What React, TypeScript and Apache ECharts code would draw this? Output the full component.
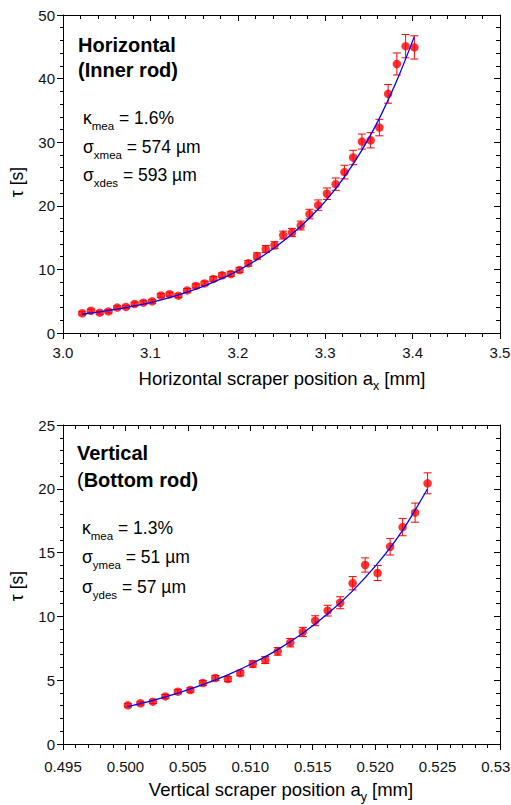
import React, { useEffect, useRef } from 'react';
import * as echarts from 'echarts';

// ---------- Horizontal (inner rod) ----------
const hX = [3.022, 3.032, 3.042, 3.052, 3.062, 3.072, 3.082, 3.092, 3.102, 3.112, 3.122, 3.132, 3.142, 3.152, 3.162, 3.172, 3.182, 3.192, 3.202, 3.212, 3.222, 3.232, 3.242, 3.252, 3.262, 3.272, 3.282, 3.292, 3.302, 3.312, 3.322, 3.332, 3.342, 3.352, 3.362, 3.372, 3.382, 3.392, 3.402];
const hTau = [3.1, 3.5, 3.2, 3.4, 4.0, 4.1, 4.56, 4.77, 4.98, 5.9, 6.1, 5.87, 6.7, 7.4, 7.8, 8.5, 9.07, 9.28, 9.9, 10.95, 12.1, 13.2, 13.8, 15.4, 15.8, 16.9, 18.7, 20.1, 21.9, 23.4, 25.3, 27.6, 30.1, 30.3, 32.3, 37.6, 42.3, 45.1, 44.9];
const hErr = [0.25, 0.25, 0.25, 0.25, 0.25, 0.25, 0.28, 0.28, 0.3, 0.3, 0.3, 0.3, 0.3, 0.32, 0.34, 0.36, 0.38, 0.38, 0.4, 0.45, 0.5, 0.55, 0.55, 0.62, 0.65, 0.7, 0.75, 0.82, 0.9, 0.97, 1.07, 1.13, 1.18, 1.2, 1.3, 1.47, 1.73, 1.83, 1.83];
const hFitX = [3.022, 3.042, 3.062, 3.082, 3.102, 3.122, 3.142, 3.162, 3.182, 3.202, 3.222, 3.242, 3.262, 3.282, 3.302, 3.322, 3.342, 3.362, 3.382, 3.402];
const hFitTau = [2.95, 3.33, 3.76, 4.26, 4.87, 5.58, 6.43, 7.42, 8.58, 9.95, 11.54, 13.4, 15.56, 18.08, 21.0, 24.55, 28.75, 33.75, 39.7, 46.6];
const hXRange = [3.0, 3.5, 0.1];
const hYRange = [0, 50, 10];

// ---------- Vertical (bottom rod) ----------
const vX = [0.5002, 0.5012, 0.5022, 0.5032, 0.5042, 0.5052, 0.5062, 0.5072, 0.5082, 0.5092, 0.5102, 0.5112, 0.5122, 0.5132, 0.5142, 0.5152, 0.5162, 0.5172, 0.5182, 0.5192, 0.5202, 0.5212, 0.5222, 0.5232, 0.5242];
const vTau = [3.03, 3.19, 3.32, 3.73, 4.1, 4.23, 4.78, 5.17, 5.09, 5.56, 6.27, 6.58, 7.26, 7.94, 8.78, 9.66, 10.45, 11.07, 12.6, 14.03, 13.4, 15.46, 17.0, 18.13, 20.43];
const vErr = [0.13, 0.13, 0.14, 0.15, 0.16, 0.17, 0.19, 0.2, 0.2, 0.22, 0.25, 0.27, 0.3, 0.33, 0.36, 0.39, 0.42, 0.47, 0.52, 0.56, 0.59, 0.65, 0.68, 0.75, 0.82];
const vFitX = [0.5002, 0.5022, 0.5042, 0.5062, 0.5082, 0.5102, 0.5122, 0.5142, 0.5162, 0.5182, 0.5202, 0.5222, 0.5242];
const vFitTau = [2.92, 3.42, 3.99, 4.65, 5.42, 6.33, 7.4, 8.68, 10.2, 12.0, 14.15, 16.75, 20.0];
const vXRange = [0.495, 0.53, 0.005];
const vYRange = [0, 25, 5];

const FONT = '"Liberation Sans", Arial, Helvetica, sans-serif';
const RED = '#ff0000';
const BLUE = '#0000ff';

function xAxes(grid: number, r: number[], digits: number, margin: number) {
  const common = {
    type: 'value', gridIndex: grid, min: r[0], max: r[1], interval: r[2],
    splitLine: { show: false }, minorSplitLine: { show: false },
    axisLine: { onZero: false, lineStyle: { color: '#000', width: 1 } },
  };
  return [
    {
      ...common, position: 'bottom',
      axisTick: { show: true, inside: false, length: 6, lineStyle: { color: '#000' } },
      minorTick: { show: true, splitNumber: 5, length: 4, lineStyle: { color: '#000' } },
      axisLabel: { color: '#111', fontSize: 15, fontFamily: FONT, margin, formatter: (v: number) => v.toFixed(digits) },
    },
    {
      ...common, position: 'top',
      axisTick: { show: true, inside: true, length: 6, lineStyle: { color: '#000' } },
      minorTick: { show: true, splitNumber: 5, length: 4, lineStyle: { color: '#000' } },
      axisLabel: { show: false },
    },
  ];
}

function yAxes(grid: number, r: number[]) {
  const common = {
    type: 'value', gridIndex: grid, min: r[0], max: r[1], interval: r[2],
    splitLine: { show: false }, minorSplitLine: { show: false },
    axisLine: { onZero: false, lineStyle: { color: '#000', width: 1 } },
  };
  return [
    {
      ...common, position: 'left',
      axisTick: { show: true, inside: false, length: 6, lineStyle: { color: '#000' } },
      minorTick: { show: true, splitNumber: 5, length: 3, lineStyle: { color: '#000' } },
      axisLabel: { color: '#111', fontSize: 15, fontFamily: FONT, margin: 8 },
    },
    {
      ...common, position: 'right',
      axisTick: { show: true, inside: true, length: 6, lineStyle: { color: '#000' } },
      minorTick: { show: true, splitNumber: 5, length: 4, lineStyle: { color: '#000' } },
      axisLabel: { show: false },
    },
  ];
}

function errSeries(xs: number[], ys: number[], es: number[], xi: number, yi: number) {
  return {
    type: 'custom', xAxisIndex: xi, yAxisIndex: yi, z: 2,
    data: xs.map((x, i) => [x, ys[i], es[i]]),
    encode: { x: 0, y: 1 },
    renderItem: (_p: any, api: any) => {
      const x = api.value(0), y = api.value(1), e = api.value(2);
      const t = api.coord([x, y + e]);
      const b = api.coord([x, y - e]);
      const w = 4;
      const st = { stroke: RED, lineWidth: 1 };
      return {
        type: 'group',
        children: [
          { type: 'line', shape: { x1: t[0], y1: t[1], x2: b[0], y2: b[1] }, style: st },
          { type: 'line', shape: { x1: t[0] - w, y1: t[1], x2: t[0] + w, y2: t[1] }, style: st },
          { type: 'line', shape: { x1: b[0] - w, y1: b[1], x2: b[0] + w, y2: b[1] }, style: st },
        ],
      };
    },
  };
}

function pts(xs: number[], ys: number[], xi: number, yi: number) {
  return {
    type: 'scatter', xAxisIndex: xi, yAxisIndex: yi, z: 3,
    symbol: 'circle', symbolSize: 8.5,
    itemStyle: { color: RED },
    data: xs.map((x, i) => [x, ys[i]]),
  };
}

function fit(xs: number[], ys: number[], xi: number, yi: number) {
  return {
    type: 'line', xAxisIndex: xi, yAxisIndex: yi, z: 4,
    showSymbol: false, symbol: 'none', smooth: 0.3,
    lineStyle: { color: BLUE, width: 1.3 },
    data: xs.map((x, i) => [x, ys[i]]),
  };
}

const rich = {
  m: { fontSize: 17.5, lineHeight: 27, fontFamily: FONT, fill: '#000', verticalAlign: 'middle' },
  s: { fontSize: 11.5, lineHeight: 11, fontFamily: FONT, fill: '#000', verticalAlign: 'bottom' },
  T: { fontSize: 18.5, lineHeight: 29, fontFamily: FONT, fill: '#000', verticalAlign: 'middle' },
  t: { fontSize: 12.5, lineHeight: 12, fontFamily: FONT, fill: '#000', verticalAlign: 'bottom' },
  b: { fontSize: 20, fontWeight: 'bold', fontFamily: FONT, fill: '#000' },
  r: { fontSize: 20, fontFamily: FONT, fill: '#000' },
};

function txt(x: number, y: number, text: string, align = 'left', rotation = 0) {
  return {
    type: 'text', x, y, rotation, z: 10,
    style: { text, rich, align, verticalAlign: 'middle', fill: '#000', font: `17px ${FONT}` },
  };
}

export default function App() {
  const ref = useRef<HTMLDivElement>(null);
  useEffect(() => {
    const chart = echarts.init(ref.current!, null, { renderer: 'svg' });
    const option: any = {
      animation: false,
      backgroundColor: '#fff',
      grid: [
        { left: 63, top: 15, width: 437, height: 318, outerBoundsMode: 'none', containLabel: false },
        { left: 63, top: 425, width: 437, height: 319, outerBoundsMode: 'none', containLabel: false },
      ],
      xAxis: [...xAxes(0, hXRange, 1, 12), ...xAxes(1, vXRange, 3, 15)],
      yAxis: [...yAxes(0, hYRange), ...yAxes(1, vYRange)],
      series: [
        errSeries(hX, hTau, hErr, 0, 0),
        pts(hX, hTau, 0, 0),
        fit(hFitX, hFitTau, 0, 0),
        errSeries(vX, vTau, vErr, 2, 2),
        pts(vX, vTau, 2, 2),
        fit(vFitX, vFitTau, 2, 2),
      ],
      graphic: [
        txt(78, 45, '{b|Horizontal}'),
        txt(78, 70, '{b|(Inner rod)}'),
        txt(83, 118, '{m|κ}{s|mea}{m| = 1.6%}'),
        txt(83, 147, '{m|σ}{s|xmea}{m| = 574 µm}'),
        txt(83, 175, '{m|σ}{s|xdes}{m| = 593 µm}'),
        txt(77, 453, '{b|Vertical}'),
        txt(77, 480, '{r|(}{b|Bottom rod)}'),
        txt(82, 528, '{m|κ}{s|mea}{m| = 1.3%}'),
        txt(82, 557, '{m|σ}{s|ymea}{m| = 51 µm}'),
        txt(82, 587, '{m|σ}{s|ydes}{m| = 57 µm}'),
        txt(282, 378, '{T|Horizontal scraper position a}{t|x}{T| [mm]}', 'center'),
        txt(281, 789, '{T|Vertical scraper position a}{t|y}{T| [mm]}', 'center'),
        txt(17, 182, '{m|τ [s]}', 'center', Math.PI / 2),
        txt(17, 586, '{m|τ [s]}', 'center', Math.PI / 2),
      ],
    };
    chart.setOption(option);
    return () => chart.dispose();
  }, []);
  return (
    <div
      ref={ref}
      style={{ position: 'fixed', left: 0, top: 0, width: 511, height: 805, background: '#fff' }}
    />
  );
}
